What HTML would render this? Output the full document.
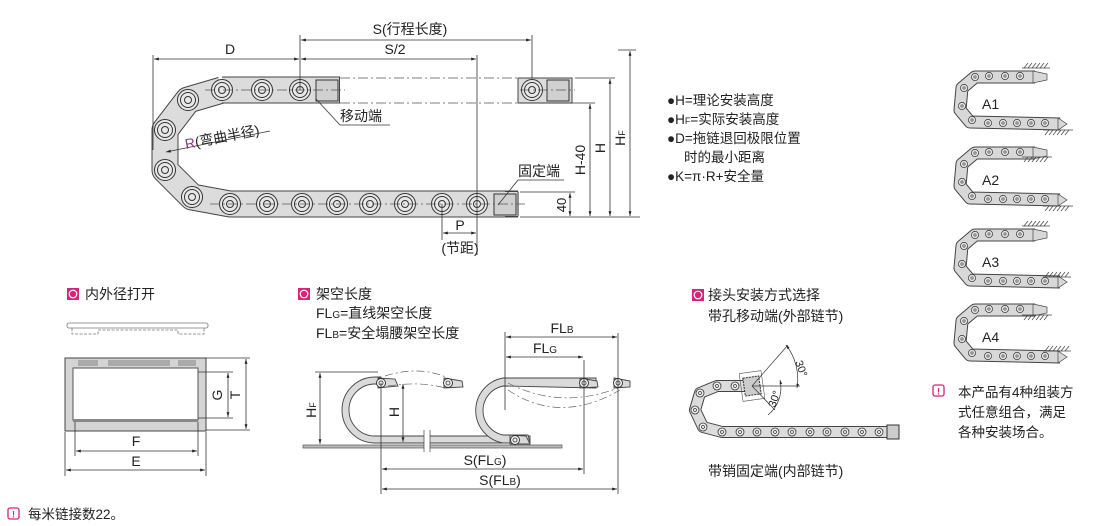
<!DOCTYPE html>
<html><head><meta charset="utf-8">
<style>
html,body{margin:0;padding:0;background:#fff;}
svg{display:block;font-family:"Liberation Sans","Noto Sans CJK SC",sans-serif;}
</style></head>
<body>
<svg width="1110" height="526" viewBox="0 0 1110 526" xmlns="http://www.w3.org/2000/svg">
<defs>
<marker id="a" viewBox="0 0 10 10" refX="10" refY="5" markerWidth="8" markerHeight="6" orient="auto-start-reverse"><path d="M0,2 L10,5 L0,8 z" fill="#222"/></marker>
<g id="lk"><circle r="10.5" fill="#e8e8e8" stroke="#333" stroke-width="1"/><circle r="7.5" fill="none" stroke="#333" stroke-width="1"/><circle r="3.5" fill="none" stroke="#333" stroke-width="1"/></g>
<g id="sl"><circle r="4" fill="#eee" stroke="#333" stroke-width="0.8"/><circle r="1.5" fill="none" stroke="#333" stroke-width="0.7"/></g>
<g id="tl"><circle r="3.6" fill="#e4e4e4" stroke="#333" stroke-width="0.7"/><circle r="1.2" fill="none" stroke="#333" stroke-width="0.6"/></g>
<g id="pv"><circle r="4.5" fill="#eee" stroke="#333" stroke-width="0.9"/><circle r="2" fill="none" stroke="#333" stroke-width="0.8"/></g>
<g id="ht" stroke="#444" stroke-width="0.7"><line x1="0" y1="0" x2="28" y2="0"/><line x1="2" y1="0" x2="6" y2="-5"/><line x1="6" y1="0" x2="10" y2="-5"/><line x1="10" y1="0" x2="14" y2="-5"/><line x1="14" y1="0" x2="18" y2="-5"/><line x1="18" y1="0" x2="22" y2="-5"/><line x1="22" y1="0" x2="26" y2="-5"/></g>
<g id="hb" stroke="#444" stroke-width="0.7"><line x1="0" y1="0" x2="30" y2="0"/><line x1="2" y1="5" x2="6" y2="0"/><line x1="6" y1="5" x2="10" y2="0"/><line x1="10" y1="5" x2="14" y2="0"/><line x1="14" y1="5" x2="18" y2="0"/><line x1="18" y1="5" x2="22" y2="0"/><line x1="22" y1="5" x2="26" y2="0"/></g>
<g id="ach">
<polyline points="1035,77 975,77 962,88 960,110 970,122 1060,124" fill="none" stroke="#444" stroke-width="13" stroke-linejoin="round"/>
<polyline points="1035,77 975,77 962,88 960,110 970,122 1060,124" fill="none" stroke="#d8d8d8" stroke-width="11" stroke-linejoin="round"/>
<path d="M1033,71 L1047,74 L1047,80 L1033,83 Z" fill="#d8d8d8" stroke="#444" stroke-width="0.7"/>
<path d="M1058,118 L1067,124 L1058,130 Z" fill="#d8d8d8" stroke="#444" stroke-width="0.7"/>
<use href="#tl" x="975" y="77"/><use href="#tl" x="989" y="76"/><use href="#tl" x="1005" y="76"/><use href="#tl" x="1020" y="76"/><use href="#tl" x="964" y="88"/><use href="#tl" x="962" y="106"/><use href="#tl" x="972" y="120"/><use href="#tl" x="988" y="123"/><use href="#tl" x="1003" y="123"/><use href="#tl" x="1017" y="123"/><use href="#tl" x="1031" y="123"/><use href="#tl" x="1045" y="123"/>
</g>
</defs>

<!-- ===== MAIN CHAIN ===== -->
<g fill="none" stroke-linejoin="round">
<polyline points="222,90 188,100 165,130 165,170 192,197 230,204 518,204" stroke="#444" stroke-width="27"/>
<polyline points="222,90 188,100 165,130 165,170 192,197 230,204 518,204" stroke="#dcdcdc" stroke-width="25"/>
<polyline points="222,90 340,90" stroke="#444" stroke-width="27"/>
<polyline points="222,90 339,90" stroke="#dcdcdc" stroke-width="25"/>
</g>
<rect x="518" y="78" width="54" height="25" fill="#dcdcdc" stroke="#444"/>
<rect x="506" y="191.5" width="13" height="25" fill="#dcdcdc" stroke="none"/>
<line x1="505" y1="191.5" x2="518" y2="191.5" stroke="#444"/><line x1="505" y1="216.5" x2="518" y2="216.5" stroke="#444"/><line x1="518" y1="191.5" x2="518" y2="216.5" stroke="#444"/>
<rect x="316" y="80" width="22" height="21" fill="#d0d0d0" stroke="#333"/>
<rect x="547" y="80" width="22" height="21" fill="#d0d0d0" stroke="#333"/>
<rect x="494" y="194" width="22" height="21" fill="#d0d0d0" stroke="#333"/>
<use href="#lk" x="222" y="90"/><use href="#lk" x="262" y="90"/><use href="#lk" x="300" y="90"/>
<use href="#lk" x="188" y="100"/><use href="#lk" x="165" y="130"/><use href="#lk" x="165" y="170"/><use href="#lk" x="192" y="197"/>
<use href="#lk" x="230" y="204"/><use href="#lk" x="267" y="204"/><use href="#lk" x="302" y="204"/><use href="#lk" x="337" y="204"/><use href="#lk" x="370" y="204"/><use href="#lk" x="405" y="204"/><use href="#lk" x="442" y="204"/><use href="#lk" x="477" y="204"/>
<use href="#lk" x="532" y="90"/>
<g stroke="#555" stroke-width="0.7" stroke-dasharray="10,3,2,3" fill="none">
<line x1="205" y1="90" x2="345" y2="90"/><line x1="520" y1="90" x2="575" y2="90"/>
<line x1="210" y1="204" x2="525" y2="204"/>
<line x1="340" y1="78" x2="518" y2="78"/><line x1="340" y1="103" x2="518" y2="103"/>
</g>
<g stroke="#333" stroke-width="0.8" fill="none">
<line x1="300" y1="35" x2="300" y2="90"/><line x1="532" y1="35" x2="532" y2="78"/><line x1="153" y1="55" x2="153" y2="150"/>
<line x1="477" y1="55" x2="477" y2="255"/><line x1="442" y1="204" x2="442" y2="240"/>
<line x1="301" y1="40" x2="531" y2="40" marker-start="url(#a)" marker-end="url(#a)"/>
<line x1="154" y1="59" x2="299" y2="59" marker-start="url(#a)" marker-end="url(#a)"/>
<line x1="301" y1="59" x2="476" y2="59" marker-start="url(#a)" marker-end="url(#a)"/>
<line x1="443" y1="233" x2="476" y2="233" marker-start="url(#a)" marker-end="url(#a)"/>
<line x1="520" y1="217" x2="640" y2="217"/><line x1="575" y1="78" x2="615" y2="78"/><line x1="520" y1="103" x2="595" y2="103"/><line x1="520" y1="192" x2="575" y2="192"/><line x1="618" y1="50" x2="636" y2="50"/>
<line x1="590" y1="104" x2="590" y2="216" marker-start="url(#a)" marker-end="url(#a)"/>
<line x1="610" y1="79" x2="610" y2="216" marker-start="url(#a)" marker-end="url(#a)"/>
<line x1="630" y1="51" x2="630" y2="216" marker-start="url(#a)" marker-end="url(#a)"/>
<line x1="570" y1="193" x2="570" y2="216" marker-start="url(#a)" marker-end="url(#a)"/>
<line x1="316" y1="99" x2="340" y2="125"/><line x1="340" y1="125" x2="390" y2="125"/>
<line x1="498" y1="205" x2="518" y2="180"/><line x1="518" y1="180" x2="564" y2="180"/>
<line x1="270" y1="131" x2="166" y2="152" marker-end="url(#a)"/>
</g>
<g font-size="14" fill="#222">
<text x="410" y="34" text-anchor="middle">S(行程长度)</text>
<text x="230" y="54" text-anchor="middle">D</text>
<text x="395" y="54" text-anchor="middle">S/2</text>
<text x="340" y="121">移动端</text>
<text x="518" y="176">固定端</text>
<text x="460" y="230" text-anchor="middle">P</text>
<text x="460" y="253" text-anchor="middle">(节距)</text>
<text transform="translate(186,149) rotate(-11)"><tspan fill="#9b2d8e">R</tspan>(弯曲半径)</text>
<text transform="translate(585,160) rotate(-90)" text-anchor="middle">H-40</text>
<text transform="translate(605,148) rotate(-90)" text-anchor="middle">H</text>
<text transform="translate(625,138) rotate(-90)" text-anchor="middle">H<tspan font-size="9">F</tspan></text>
<text transform="translate(566,205) rotate(-90)" text-anchor="middle" font-size="13">40</text>
</g>
<g font-size="13.5" fill="#222">
<text x="667" y="105">●H=理论安装高度</text>
<text x="667" y="124">●H<tspan font-size="9">F</tspan>=实际安装高度</text>
<text x="667" y="143">●D=拖链退回极限位置</text>
<text x="684" y="162">时的最小距离</text>
<text x="667" y="181">●K=π·R+安全量</text>
</g>

<!-- ===== A1..A4 ===== -->
<use href="#ach" x="0" y="0"/>
<use href="#ach" x="0" y="76"/>
<use href="#ach" x="0" y="158"/>
<use href="#ach" x="0" y="233"/>
<use href="#ht" x="1022" y="68"/><use href="#hb" x="1043" y="130"/>
<use href="#hb" x="1022" y="157"/><use href="#hb" x="1043" y="206"/>
<use href="#ht" x="1022" y="226"/><use href="#ht" x="1043" y="277"/>
<use href="#hb" x="1022" y="315"/><use href="#ht" x="1043" y="351"/>
<g font-size="14" fill="#222"><text x="982" y="109">A1</text><text x="982" y="185">A2</text><text x="982" y="267">A3</text><text x="982" y="342">A4</text></g>
<g font-size="13.5" fill="#222">
<rect x="933" y="385" width="11" height="11" rx="2" fill="#fff" stroke="#d6247a" stroke-width="1.3"/><text x="938.5" y="394.5" font-size="9" fill="#d6247a" text-anchor="middle" font-weight="bold">!</text>
<text x="958" y="397">本产品有4种组装方</text>
<text x="958" y="417">式任意组合，满足</text>
<text x="958" y="437">各种安装场合。</text>
</g>

<!-- ===== 内外径打开 ===== -->
<rect x="67" y="288" width="12" height="12" fill="#d6247a"/><circle cx="73" cy="294" r="3.8" fill="none" stroke="#fff" stroke-width="1.2"/>
<text x="85" y="299" font-size="14" fill="#222">内外径打开</text>
<g fill="none" stroke="#777" stroke-width="0.8">
<rect x="67" y="323" width="141" height="5" rx="2"/>
<path d="M72,328 V334 H98 V330 H178 V334 H204 V328" stroke-dasharray="3,1.5"/>
</g>
<rect x="65" y="358" width="141" height="73" fill="#d4d4d4" stroke="#444"/>
<rect x="73" y="368" width="125" height="52" fill="#fff" stroke="#555"/>
<rect x="78" y="360" width="20" height="6" fill="#aaa"/><rect x="108" y="360" width="62" height="6" fill="#aaa"/><rect x="178" y="360" width="18" height="6" fill="#aaa"/>
<rect x="73" y="419" width="125" height="3" fill="#888"/>
<g stroke="#333" stroke-width="0.8" fill="none">
<line x1="65" y1="432" x2="65" y2="476"/><line x1="206" y1="432" x2="206" y2="476"/><line x1="75" y1="422" x2="75" y2="456"/><line x1="198" y1="422" x2="198" y2="456"/>
<line x1="76" y1="451" x2="197" y2="451" marker-start="url(#a)" marker-end="url(#a)"/>
<line x1="66" y1="470" x2="205" y2="470" marker-start="url(#a)" marker-end="url(#a)"/>
<line x1="198" y1="372" x2="233" y2="372"/><line x1="198" y1="418" x2="233" y2="418"/><line x1="206" y1="358" x2="250" y2="358"/><line x1="206" y1="430" x2="250" y2="430"/>
<line x1="228" y1="373" x2="228" y2="417" marker-start="url(#a)" marker-end="url(#a)"/>
<line x1="246" y1="359" x2="246" y2="429" marker-start="url(#a)" marker-end="url(#a)"/>
</g>
<g font-size="14" fill="#222">
<text x="136" y="446" text-anchor="middle">F</text><text x="136" y="466" text-anchor="middle">E</text>
<text transform="translate(222,395) rotate(-90)" text-anchor="middle">G</text>
<text transform="translate(240,395) rotate(-90)" text-anchor="middle">T</text>
</g>

<!-- ===== 架空长度 ===== -->
<rect x="298" y="288" width="12" height="12" fill="#d6247a"/><circle cx="304" cy="294" r="3.8" fill="none" stroke="#fff" stroke-width="1.2"/>
<g font-size="14" fill="#222">
<text x="316" y="299">架空长度</text>
<text x="316" y="318">FL<tspan font-size="10">G</tspan>=直线架空长度</text>
<text x="316" y="338">FL<tspan font-size="10">B</tspan>=安全塌腰架空长度</text>
</g>
<rect x="303" y="445" width="259" height="3" fill="#bbb" stroke="#555" stroke-width="0.7"/>
<g fill="#dadada" stroke="#444" stroke-width="0.9">
<path d="M381,377 L375,377 A33,33 0 0 0 375,443 L530,443 L530,436 L375,436 A26,26 0 0 1 375,384 L381,384 Z"/>
<path d="M596,378 L503,378 A33,33 0 0 0 503,443 L530,443 L528,435 L503,435 A25,25 0 0 1 503,386 L596,388 Z"/>
<path d="M378,378 L395,379 L398,386 L378,388 Z"/>
<path d="M444,378 L462,381 L463,387 L444,388 Z"/>
<path d="M614,378 L630,381 L630,387 L614,388 Z"/>
<path d="M580,378 L597,381 L598,387 L580,388 Z"/>
<path d="M510,435 L526,436 L530,444 L510,444 Z"/>
</g>
<rect x="424" y="430" width="6" height="22" fill="#fff"/>
<g stroke="#444" stroke-width="0.7"><line x1="424" y1="430" x2="424" y2="452"/><line x1="430" y1="430" x2="430" y2="452"/></g>
<use href="#pv" x="381" y="383"/><use href="#pv" x="448" y="383"/><use href="#pv" x="584" y="383"/><use href="#pv" x="618" y="383"/><use href="#pv" x="515" y="440"/>
<g fill="none" stroke="#666" stroke-width="0.7" stroke-dasharray="8,3,2,3">
<path d="M385,376 Q420,365 448,378"/><path d="M388,386 Q420,381 445,388"/>
<path d="M508,383 Q560,410 618,388"/><path d="M508,390 Q560,425 620,390"/>
</g>
<g stroke="#333" stroke-width="0.8" fill="none">
<line x1="315" y1="372" x2="378" y2="372"/>
<line x1="320" y1="373" x2="320" y2="444" marker-start="url(#a)" marker-end="url(#a)"/>
<line x1="403" y1="384" x2="403" y2="442" marker-start="url(#a)" marker-end="url(#a)"/>
<line x1="381" y1="383" x2="381" y2="494"/><line x1="584" y1="360" x2="584" y2="474"/><line x1="618" y1="333" x2="618" y2="494"/><line x1="505" y1="332" x2="505" y2="410"/>
<line x1="506" y1="337" x2="617" y2="337" marker-start="url(#a)" marker-end="url(#a)"/>
<line x1="506" y1="357" x2="583" y2="357" marker-start="url(#a)" marker-end="url(#a)"/>
<line x1="382" y1="469" x2="583" y2="469" marker-start="url(#a)" marker-end="url(#a)"/>
<line x1="382" y1="489" x2="617" y2="489" marker-start="url(#a)" marker-end="url(#a)"/>
</g>
<g font-size="14" fill="#222">
<text x="562" y="333" text-anchor="middle">FL<tspan font-size="10">B</tspan></text>
<text x="545" y="353" text-anchor="middle">FL<tspan font-size="10">G</tspan></text>
<text x="485" y="465" text-anchor="middle">S(FL<tspan font-size="10">G</tspan>)</text>
<text x="500" y="485" text-anchor="middle">S(FL<tspan font-size="10">B</tspan>)</text>
<text transform="translate(316,410) rotate(-90)" text-anchor="middle">H<tspan font-size="9">F</tspan></text>
<text transform="translate(399,412) rotate(-90)" text-anchor="middle">H</text>
</g>

<!-- ===== 接头安装方式选择 ===== -->
<rect x="692" y="289" width="12" height="12" fill="#d6247a"/><circle cx="698" cy="295" r="3.8" fill="none" stroke="#fff" stroke-width="1.2"/>
<g font-size="14" fill="#222">
<text x="708" y="300">接头安装方式选择</text>
<text x="708" y="321">带孔移动端(外部链节)</text>
<text x="708" y="476">带销固定端(内部链节)</text>
</g>
<g fill="none" stroke-linejoin="round">
<polyline points="752,386 717,386 700,393 695,410 703,427 722,432 890,432" stroke="#444" stroke-width="12"/>
<polyline points="752,386 717,386 700,393 695,410 703,427 722,432 890,432" stroke="#dcdcdc" stroke-width="10"/>
</g>
<rect x="887" y="425" width="12" height="14" fill="#ccc" stroke="#333"/>
<g transform="translate(752,386) rotate(-8)"><rect x="-8" y="-9" width="16" height="18" fill="#ccc" stroke="#333" stroke-dasharray="2,1"/><rect x="-11" y="-14" width="22" height="28" fill="none" stroke="#555" stroke-width="0.6"/></g>
<use href="#sl" x="717" y="386"/><use href="#sl" x="735" y="386"/><use href="#sl" x="700" y="393"/><use href="#sl" x="695" y="410"/><use href="#sl" x="703" y="427"/>
<use href="#sl" x="722" y="432"/><use href="#sl" x="740" y="432"/><use href="#sl" x="757" y="432"/><use href="#sl" x="775" y="432"/><use href="#sl" x="792" y="432"/><use href="#sl" x="810" y="432"/><use href="#sl" x="827" y="432"/><use href="#sl" x="845" y="432"/><use href="#sl" x="862" y="432"/><use href="#sl" x="879" y="432"/>
<g stroke="#333" stroke-width="0.7" fill="none">
<line x1="752" y1="386" x2="800" y2="386"/><line x1="752" y1="386" x2="788" y2="345"/><line x1="752" y1="386" x2="775" y2="410"/>
<path d="M786,345 A55,55 0 0 1 797,388" marker-start="url(#a)" marker-end="url(#a)"/>
<path d="M780,380 A35,35 0 0 1 768,415" marker-start="url(#a)"/>
</g>
<g font-size="11" fill="#222"><text transform="translate(795,362) rotate(70)">30°</text><text transform="translate(775,408) rotate(-70)">30°</text></g>

<rect x="8" y="508" width="11" height="11" rx="2" fill="#fff" stroke="#d6247a" stroke-width="1.3"/><text x="13.5" y="517.5" font-size="9" fill="#d6247a" text-anchor="middle" font-weight="bold">!</text>
<text x="28" y="519" font-size="13.5" fill="#222">每米链接数22。</text>
</svg>
</body></html>
